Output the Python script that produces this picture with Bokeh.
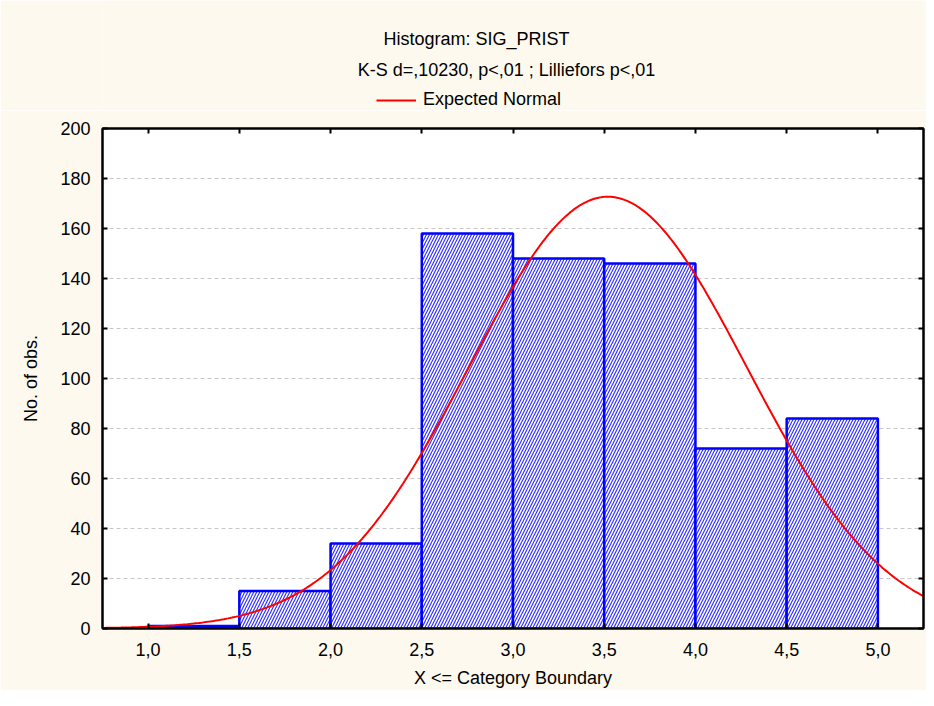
import numpy as np
from bokeh.plotting import figure
from bokeh.layouts import column
from bokeh.models import (ColumnDataSource, LinearAxis, FixedTicker, Legend,
                          LegendItem, Range1d, Label)
from bokeh.embed import file_html
from bokeh.resources import INLINE

# ---- data ----
bin_left = [1.0, 1.5, 2.0, 2.5, 3.0, 3.5, 4.0, 4.5]
bin_right = [1.5, 2.0, 2.5, 3.0, 3.5, 4.0, 4.5, 5.0]
counts = [1, 15, 34, 158, 148, 146, 72, 84]

x_ticks = [1.0, 1.5, 2.0, 2.5, 3.0, 3.5, 4.0, 4.5, 5.0]
x_tick_labels = ["1,0", "1,5", "2,0", "2,5", "3,0", "3,5", "4,0", "4,5", "5,0"]
y_ticks = [0, 20, 40, 60, 80, 100, 120, 140, 160, 180, 200]

# Expected normal parameters
normal_mean = 3.52
normal_sd = 0.76
bin_width = 0.5

title_text = "Histogram: SIG_PRIST"
subtitle_text = "K-S d=,10230, p<,01 ; Lilliefors p<,01"
legend_text = "Expected Normal"
x_label = "X <= Category Boundary"
y_label = "No. of obs."

FONT = "Liberation Sans"
FS = "18px"
BG = "#FDF9EE"
RED = "#FF0000"
BLUE = "#0000FF"

W = 926
HEAD_H = 110
MAIN_H = 580
TOP, BOTTOM, LEFT, RIGHT = 18, 62, 102, 3

# ---------------- header (titles + legend) ----------------
# the column aligns this frame with the main frame (x from LEFT to W-RIGHT)
head = figure(width=W, height=HEAD_H, output_backend="svg", toolbar_location=None,
              x_range=Range1d(LEFT, W - RIGHT), y_range=Range1d(0, HEAD_H),
              min_border=0, min_border_left=LEFT, min_border_right=RIGHT,
              min_border_top=0, min_border_bottom=0)
head.axis.visible = False
head.grid.visible = False
head.outline_line_color = None
head.background_fill_color = BG
head.border_fill_color = BG

for txt, xpos, ypos in [(title_text, 476, HEAD_H - 38), (subtitle_text, 506, HEAD_H - 69)]:
    head.add_layout(Label(x=xpos, y=ypos, text=txt, text_align="center",
                          text_baseline="middle", text_font=FONT,
                          text_font_size=FS, text_color="black"))

dummy = head.line(x=np.array([np.nan]), y=np.array([np.nan]), line_color=RED, line_width=2)
legend = Legend(items=[LegendItem(label=legend_text, renderers=[dummy])],
                location=(376 - LEFT, 0), orientation="horizontal",
                label_text_font=FONT, label_text_font_size=FS,
                label_text_color="black",
                label_standoff=7, glyph_width=40, glyph_height=20,
                label_height=20, border_line_color=None,
                background_fill_alpha=0, padding=0, margin=0, spacing=0)
head.add_layout(legend, "center")

# ---------------- main histogram ----------------
p = figure(width=W, height=MAIN_H, output_backend="svg", toolbar_location=None,
           x_range=Range1d(0.75, 5.25), y_range=Range1d(0, 200),
           min_border_left=LEFT, min_border_right=RIGHT, min_border_top=TOP,
           min_border_bottom=BOTTOM)
p.border_fill_color = BG
p.background_fill_color = "white"
p.outline_line_color = "black"
p.outline_line_width = 2

bars = ColumnDataSource(dict(left=bin_left, right=bin_right, top=counts,
                             bottom=[0] * len(counts)))
p.quad(left="left", right="right", top="top", bottom="bottom", source=bars,
       fill_color="white", line_color=BLUE, line_width=2.5,
       hatch_pattern="/", hatch_color=BLUE, hatch_alpha=0.8,
       hatch_scale=6, hatch_weight=1.2)

n_total = sum(counts)
xs = np.linspace(0.75, 5.25, 400)
ys = n_total * bin_width / (normal_sd * np.sqrt(2 * np.pi)) * np.exp(-0.5 * ((xs - normal_mean) / normal_sd) ** 2)
p.line(xs, ys, line_color=RED, line_width=2)

xt = FixedTicker(ticks=x_ticks)
yt = FixedTicker(ticks=y_ticks)

def style_axis(ax):
    ax.axis_line_color = "black"
    ax.axis_line_width = 2
    ax.major_tick_in = 5
    ax.major_tick_out = 0
    ax.minor_tick_line_color = None
    ax.major_tick_line_color = "black"
    ax.major_tick_line_width = 2
    ax.major_label_text_font = FONT
    ax.major_label_text_font_size = FS
    ax.major_label_text_color = "black"
    ax.axis_label_text_font = FONT
    ax.axis_label_text_font_size = FS
    ax.axis_label_text_font_style = "normal"
    ax.axis_label_text_color = "black"

xa = p.xaxis[0]
xa.ticker = xt
xa.major_label_overrides = {t: l for t, l in zip(x_ticks, x_tick_labels)}
xa.axis_label = x_label
style_axis(xa)
xa.major_label_standoff = 14
xa.axis_label_standoff = 9

ya = p.yaxis[0]
ya.ticker = yt
ya.axis_label = y_label
style_axis(ya)
ya.major_label_standoff = 12
ya.axis_label_standoff = 16

top_ax = LinearAxis(ticker=xt)
style_axis(top_ax)
top_ax.major_label_overrides = {t: "" for t in x_ticks}
top_ax.major_label_text_font_size = "1px"
top_ax.major_label_standoff = 0
p.add_layout(top_ax, "above")

right_ax = LinearAxis(ticker=yt)
style_axis(right_ax)
right_ax.major_label_overrides = {t: "" for t in y_ticks}
right_ax.major_label_text_font_size = "1px"
right_ax.major_label_standoff = 0
p.add_layout(right_ax, "right")

p.xgrid.visible = False
p.ygrid.ticker = yt
p.ygrid.grid_line_color = "#C8C8C8"
p.ygrid.grid_line_dash = "4 3"
p.ygrid.grid_line_width = 1

layout = column(head, p, spacing=0)
open("out.html", "w").write(file_html(layout, INLINE))
